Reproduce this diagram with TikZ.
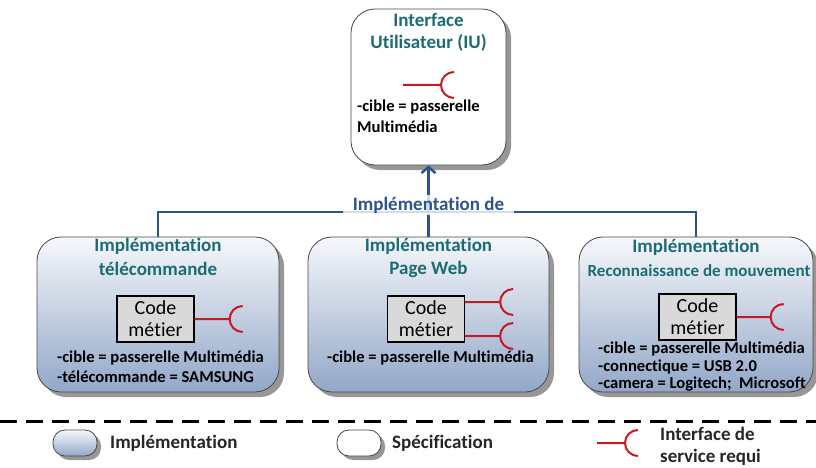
\documentclass[tikz,border=0pt]{standalone}
\usepackage{fontspec}
\setmainfont{Carlito}[Ligatures={NoCommon}]
\usetikzlibrary{shadows,arrows.meta,calc}
\definecolor{tealt}{RGB}{28,108,116}
\definecolor{connc}{RGB}{44,84,140}
\definecolor{ired}{RGB}{200,25,35}
\definecolor{gtop}{RGB}{246,248,251}
\definecolor{gbot}{RGB}{146,167,200}
\definecolor{codefill}{RGB}{217,217,217}
\definecolor{bord}{RGB}{70,70,70}
\begin{document}
\begin{tikzpicture}[x=1pt,y=-1pt,
  implbox/.style={draw=bord, line width=0.8pt, rounded corners=24pt, top color=gtop, bottom color=gbot,
    minimum height=155pt, inner sep=0pt,
    drop shadow={shadow xshift=5pt, shadow yshift=-5pt, fill=black!45, opacity=0.9}},
  specbox/.style={draw=bord, line width=0.8pt, rounded corners=24pt, fill=white,
    inner sep=0pt,
    drop shadow={shadow xshift=5pt, shadow yshift=-5pt, fill=black!45, opacity=0.9}},
  ttl/.style={text=tealt, font=\bfseries\fontsize{19}{23}\selectfont, inner sep=0pt},
  ttlsmall/.style={text=tealt, font=\bfseries\fontsize{17}{21}\selectfont, inner sep=0pt},
  body/.style={font=\bfseries\fontsize{16.6}{19}\selectfont, anchor=west, inner sep=0pt},
  codebox/.style={draw=black, line width=1.3pt, fill=codefill, minimum width=77pt, minimum height=46pt,
    align=center, font=\fontsize{20}{22}\selectfont, inner sep=0pt},
  req/.style={draw=ired, line width=2pt},
  connl/.style={draw=connc, line width=2.5pt},
  legtext/.style={font=\bfseries\fontsize{19}{23}\selectfont, anchor=west, inner sep=0pt, text=black!85}
]
\useasboundingbox (0,0) rectangle (816,468);

% specification box (top)
\node[specbox, minimum width=155pt, minimum height=156pt] (iu) at (428.5,87) {};
\node[ttl] (iut1) at (428.5,20) {Interface};
\node[ttl] (iut2) at (428.5,43) {Utilisateur (IU)};
\coordinate (iuq) at (403,85);
\draw[req] (iuq) -- ++(38,0) coordinate (iuqe) ++(13,-13) arc[start angle=90,end angle=270,radius=13pt];
\node[body] (iub1) at (357,107) {-cible = passerelle};
\node[body] (iub2) at (357,127) {Multimédia};

% implementation boxes
\node[implbox, minimum width=242pt] (i1) at (158,314.5) {};
\node[implbox, minimum width=241pt] (i2) at (428.5,314.5) {};
\node[implbox, minimum width=234pt] (i3) at (696,314.5) {};

% titles
\node[ttl] (t1a) at (158,246) {Implémentation};
\node[ttl] (t1b) at (158,269) {télécommande};
\node[ttl] (t2a) at (428.5,246) {Implémentation};
\node[ttl] (t2b) at (428.5,269) {Page Web};
\node[ttl] (t3a) at (696,247) {Implémentation};
\node[ttlsmall] (t3b) at (699,271) {Reconnaissance de mouvement};

% code boxes
\node[codebox] (c1) at (155.5,319) {Code\\métier};
\node[codebox] (c2) at (426,319) {Code\\métier};
\node[codebox] (c3) at (697.5,317) {Code\\métier};

% required interfaces
\draw[req] (c1.east) -- ++(35,0) coordinate (r1) ++(13,-13) arc[start angle=90,end angle=270,radius=13pt];
\draw[req] ($(c2.east)+(0,-17)$) -- ++(35,0) coordinate (r2) ++(13,-13) arc[start angle=90,end angle=270,radius=13pt];
\draw[req] ($(c2.east)+(0,17)$) -- ++(35,0) coordinate (r3) ++(13,-13) arc[start angle=90,end angle=270,radius=13pt];
\draw[req] (c3.east) -- ++(34,0) coordinate (r4) ++(13,-13) arc[start angle=90,end angle=270,radius=13pt];

% body texts
\node[body] (b1a) at (57,358) {-cible = passerelle Multimédia};
\node[body] (b1b) at (57,377) {-télécommande = SAMSUNG};
\node[body] (b2a) at (327,358) {-cible = passerelle Multimédia};
\node[body] (b3a) at (598,349) {-cible = passerelle Multimédia};
\node[body] (b3b) at (598,366.5) {-connectique = USB 2.0};
\node[body] (b3c) at (598,384) {-camera = Logitech;\ \ Microsoft};

% connectors
\coordinate (j) at (428.5,212);
\draw[connl] (i1.north) |- (j) -| (i3.north);
\draw[connl, -{Straight Barb[length=6pt,width=14pt,line width=2.5pt]}] (i2.north) -- (iu.south);
\node[fill=white, fill opacity=0.8, text opacity=1, text=connc, font=\bfseries\fontsize{19}{23}\selectfont,
  inner xsep=10pt, inner ysep=2pt] (lab) at (428.5,205) {Implémentation de};

% legend
\coordinate (dl) at (0,421);
\coordinate (dr) at (816,421);
\draw[line width=3pt, dash pattern=on 17pt off 9pt] (dl) -- (dr);
\node[draw=bord, line width=0.8pt, rounded corners=12pt, top color=gtop, bottom color=gbot,
  minimum width=44pt, minimum height=26pt, inner sep=0pt,
  drop shadow={shadow xshift=4pt, shadow yshift=-4pt, fill=black!45, opacity=0.9}] (lg1) at (75,443) {};
\node[legtext] (lt1) at (110,443) {Implémentation};
\node[draw=bord, line width=0.8pt, rounded corners=12pt, fill=white,
  minimum width=44pt, minimum height=26pt, inner sep=0pt,
  drop shadow={shadow xshift=4pt, shadow yshift=-4pt, fill=black!45, opacity=0.9}] (lg2) at (359,443) {};
\node[legtext] (lt2) at (392,443) {Spécification};
\coordinate (lq) at (597,443);
\draw[req] (lq) -- ++(28,0) coordinate (lqe) ++(13,-13) arc[start angle=90,end angle=270,radius=13pt];
\node[legtext] (lt3) at (660,434) {Interface de};
\node[legtext] (lt4) at (660,457) {service requi};
\end{tikzpicture}
\end{document}
